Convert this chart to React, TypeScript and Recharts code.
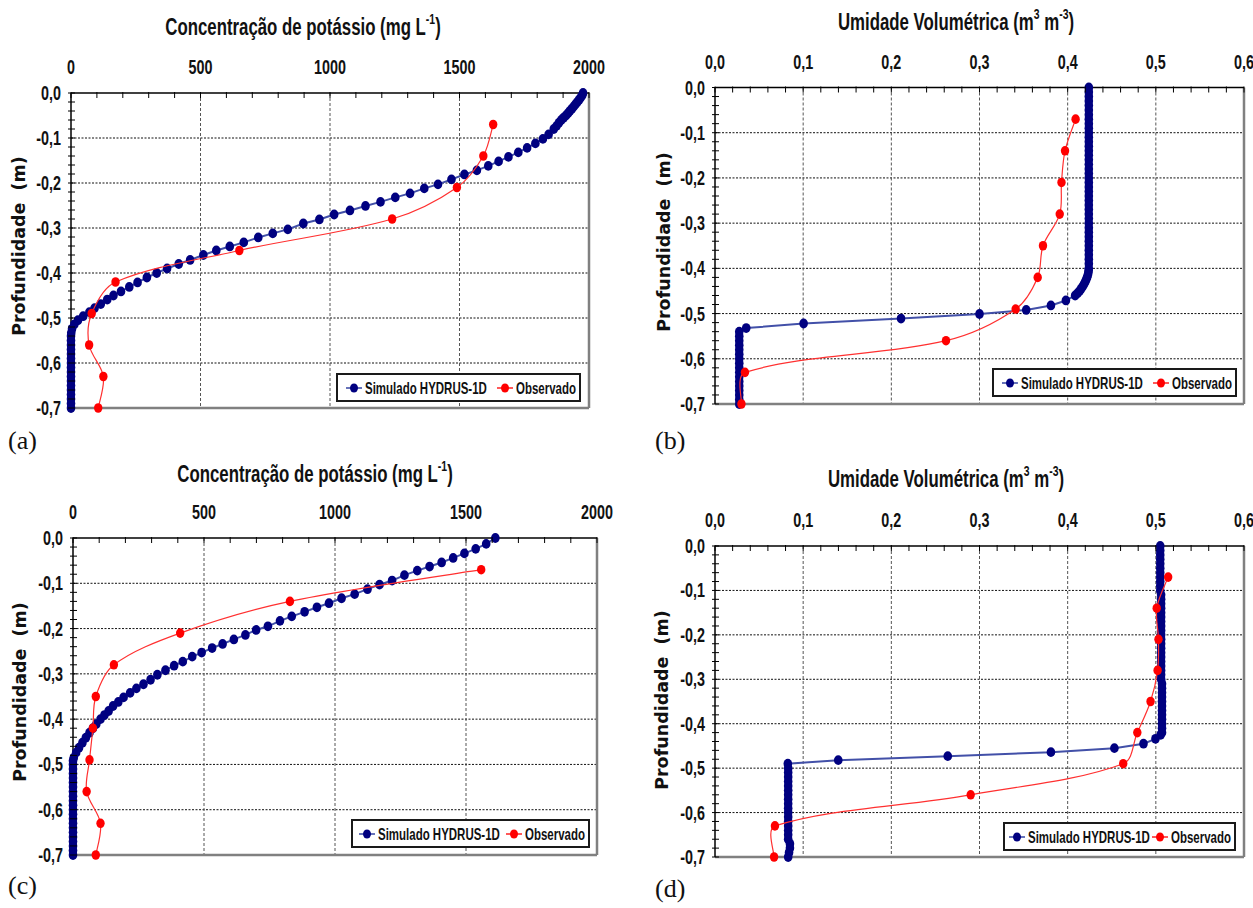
import React from 'react';
import { ScatterChart, Scatter, XAxis, YAxis, ReferenceLine, Legend } from 'recharts';

const SANS = '"Liberation Sans", Arial, sans-serif';
const SX = 0.82;
const SY = 1.15;
const BLUE = '#000080';
const BLUE_LINE = '#4250a8';
const RED = '#ff0000';
const RED_LINE = '#ff3030';
const SIM_NAME = 'Simulado HYDRUS-1D';
const OBS_NAME = 'Observado';

// ---------- shared axis values ----------
const depthTicks = [-0.7, -0.68, -0.66, -0.64, -0.62, -0.6, -0.58, -0.56, -0.54, -0.52, -0.5, -0.48, -0.46, -0.44, -0.42, -0.4, -0.38, -0.36, -0.34, -0.32, -0.3, -0.28, -0.26, -0.24, -0.22, -0.2, -0.18, -0.16, -0.14, -0.12, -0.1, -0.08, -0.06, -0.04, -0.02, 0];
const depthGrid = [-0.1, -0.2, -0.3, -0.4, -0.5, -0.6];
const potassiumTicks = [0, 100, 200, 300, 400, 500, 600, 700, 800, 900, 1000, 1100, 1200, 1300, 1400, 1500, 1600, 1700, 1800, 1900, 2000];
const potassiumGrid = [500, 1000, 1500];
const moistureTicks = [0, 0.02, 0.04, 0.06, 0.08, 0.1, 0.12, 0.14, 0.16, 0.18, 0.2, 0.22, 0.24, 0.26, 0.28, 0.3, 0.32, 0.34, 0.36, 0.38, 0.4, 0.42, 0.44, 0.46, 0.48, 0.5, 0.52, 0.54, 0.56, 0.58, 0.6];
const moistureGrid = [0.1, 0.2, 0.3, 0.4, 0.5];

// observed depths (all panels)
const depthObs = [-0.07, -0.14, -0.21, -0.28, -0.35, -0.42, -0.49, -0.56, -0.63, -0.7];

// ---------- (a) potassium ----------
const depthSimA = [0, -0.005, -0.01, -0.015, -0.02, -0.025, -0.03, -0.035, -0.04, -0.045, -0.05, -0.055, -0.06, -0.066, -0.073, -0.08,
  -0.092, -0.102, -0.112, -0.122, -0.132, -0.142, -0.152, -0.162, -0.172, -0.181,
  -0.192, -0.203, -0.212, -0.223, -0.232, -0.242, -0.251, -0.261, -0.27, -0.281,
  -0.29, -0.303, -0.312, -0.321, -0.332, -0.341, -0.35, -0.36, -0.371, -0.38,
  -0.39, -0.4, -0.41, -0.421, -0.431, -0.441, -0.45, -0.459, -0.469, -0.478,
  -0.487, -0.496, -0.505, -0.514, -0.524, -0.533,
  -0.54, -0.55, -0.56, -0.57, -0.58, -0.59, -0.6, -0.61, -0.62, -0.63, -0.64, -0.65, -0.66, -0.67, -0.68, -0.69, -0.7];
const simA = [1977, 1974, 1968, 1962, 1955, 1948, 1941, 1934, 1926, 1919, 1911, 1902, 1893, 1884, 1875, 1864,
  1844, 1822, 1793, 1761, 1727, 1689, 1651, 1611, 1567, 1519,
  1469, 1417, 1364, 1309, 1252, 1195, 1137, 1077, 1016, 959,
  897, 837, 779, 723, 667, 613, 561, 511, 460, 416,
  371, 331, 293, 257, 225, 193, 164, 140, 115, 91,
  71, 47, 27, 13, 4, 1,
  0, 0, 0, 0, 0, 0, 0, 0, 0, 0, 0, 0, 0, 0, 0, 0, 0];
const obsA = [1630, 1592, 1490, 1240, 650, 172, 80, 70, 125, 105];

// ---------- (b) moisture ----------
const depthSimB = [0, -0.01, -0.02, -0.03, -0.04, -0.05, -0.06, -0.07, -0.08, -0.09, -0.1, -0.11, -0.12, -0.13, -0.14, -0.15, -0.16, -0.17, -0.18, -0.19, -0.2,
  -0.21, -0.22, -0.23, -0.24, -0.25, -0.26, -0.27, -0.28, -0.29, -0.3, -0.31, -0.32, -0.33, -0.34, -0.35, -0.36, -0.37, -0.38, -0.39, -0.4,
  -0.405, -0.41, -0.415, -0.42, -0.425, -0.43, -0.435, -0.44, -0.445, -0.45, -0.455, -0.46,
  -0.471, -0.482, -0.492, -0.501, -0.511, -0.522, -0.532,
  -0.54, -0.55, -0.56, -0.57, -0.58, -0.59, -0.6, -0.61, -0.62, -0.63, -0.64, -0.65, -0.66, -0.67, -0.68, -0.69, -0.7];
const simB = [0.424, 0.424, 0.424, 0.424, 0.424, 0.424, 0.424, 0.424, 0.424, 0.424, 0.424, 0.424, 0.424, 0.424, 0.424, 0.424, 0.424, 0.424, 0.424, 0.424, 0.424,
  0.424, 0.424, 0.424, 0.424, 0.424, 0.424, 0.424, 0.424, 0.424, 0.424, 0.424, 0.424, 0.424, 0.424, 0.424, 0.424, 0.424, 0.424, 0.424, 0.424,
  0.4238, 0.4234, 0.4228, 0.422, 0.421, 0.4198, 0.4185, 0.417, 0.4153, 0.4135, 0.4112, 0.4085,
  0.398, 0.381, 0.353, 0.3, 0.211, 0.1005, 0.0354,
  0.0275, 0.0275, 0.0275, 0.0275, 0.0275, 0.0275, 0.0275, 0.0275, 0.0275, 0.0275, 0.0275, 0.0275, 0.0275, 0.0275, 0.0275, 0.0275, 0.0275];
const obsB = [0.409, 0.397, 0.393, 0.391, 0.372, 0.366, 0.341, 0.262, 0.034, 0.03];

// ---------- (c) potassium ----------
const depthSimC = [0, -0.013, -0.024, -0.034, -0.044, -0.054, -0.063, -0.072, -0.082, -0.094,
  -0.103, -0.113, -0.124, -0.133, -0.144, -0.153, -0.163, -0.173, -0.183, -0.195,
  -0.203, -0.214, -0.224, -0.234, -0.243, -0.253, -0.262, -0.273, -0.282, -0.292,
  -0.302, -0.313, -0.323, -0.332, -0.342, -0.352, -0.362, -0.371, -0.382, -0.391,
  -0.4, -0.411, -0.42, -0.43, -0.441, -0.452, -0.463, -0.474, -0.485, -0.492,
  -0.5, -0.51, -0.52, -0.53, -0.54, -0.55, -0.56, -0.57, -0.58, -0.59, -0.6, -0.61, -0.62, -0.63, -0.64, -0.65, -0.66, -0.67, -0.68, -0.69, -0.7];
const simC = [1612, 1577, 1537, 1494, 1451, 1407, 1361, 1314, 1265, 1218,
  1170, 1124, 1075, 1025, 977, 931, 884, 835, 790, 744,
  699, 658, 614, 571, 531, 491, 455, 419, 386, 353,
  322, 296, 269, 242, 218, 193, 173, 153, 136, 120,
  105, 89, 76, 63, 49, 36, 23, 12, 3, 0,
  0, 0, 0, 0, 0, 0, 0, 0, 0, 0, 0, 0, 0, 0, 0, 0, 0, 0, 0, 0, 0];
const obsC = [1558, 828, 409, 156, 87, 76, 63, 52, 105, 87];

// ---------- (d) moisture ----------
const depthSimD = [0, -0.01, -0.02, -0.03, -0.04, -0.05, -0.06, -0.07, -0.08, -0.09, -0.1,
  -0.11, -0.12, -0.13, -0.14, -0.15, -0.16, -0.17, -0.18, -0.19, -0.2, -0.21, -0.22, -0.23, -0.24, -0.25, -0.26, -0.27, -0.28, -0.29, -0.3,
  -0.31, -0.32, -0.33, -0.34, -0.35, -0.36, -0.37, -0.38, -0.39, -0.4, -0.41, -0.42,
  -0.425, -0.434, -0.445, -0.455, -0.464, -0.473, -0.482, -0.49,
  -0.5, -0.51, -0.52, -0.53, -0.54, -0.55, -0.56, -0.57, -0.58, -0.59, -0.6, -0.61, -0.62, -0.63, -0.64, -0.65, -0.66, -0.67, -0.68, -0.69, -0.7];
const simD = [0.505, 0.505, 0.505, 0.505, 0.505, 0.505, 0.505, 0.505, 0.505, 0.505, 0.505,
  0.506, 0.506, 0.506, 0.506, 0.506, 0.506, 0.506, 0.506, 0.506, 0.506, 0.506, 0.506, 0.506, 0.506, 0.506, 0.506, 0.506, 0.506, 0.506, 0.506,
  0.507, 0.507, 0.507, 0.507, 0.507, 0.507, 0.507, 0.507, 0.507, 0.507, 0.507, 0.507,
  0.5055, 0.4996, 0.486, 0.453, 0.381, 0.264, 0.1398, 0.0826,
  0.083, 0.083, 0.083, 0.083, 0.083, 0.083, 0.083, 0.083, 0.083, 0.083, 0.083, 0.083, 0.083, 0.083, 0.083, 0.083, 0.083, 0.085, 0.085, 0.084, 0.083];
const obsD = [0.514, 0.501, 0.503, 0.502, 0.494, 0.479, 0.463, 0.29, 0.068, 0.067];

const zip = (vals: number[], depths: number[]) => vals.map((v, i) => ({ x: v, y: depths[i] }));

// Excel-like smoothed line: Bezier through the points, tangents scaled by chord lengths
const smoothCurve = (context: any) => {
  let pts: number[][] = [];
  const dist = (a: number[], b: number[]) => Math.hypot(b[0] - a[0], b[1] - a[1]);
  return {
    areaStart() {},
    areaEnd() {},
    lineStart() { pts = []; },
    lineEnd() {
      const n = pts.length;
      if (!n) return;
      context.moveTo(pts[0][0], pts[0][1]);
      for (let i = 0; i < n - 1; i++) {
        const p0 = pts[i > 0 ? i - 1 : i];
        const p1 = pts[i];
        const p2 = pts[i + 1];
        const p3 = pts[i + 2 < n ? i + 2 : i + 1];
        const d01 = dist(p0, p1), d12 = dist(p1, p2), d23 = dist(p2, p3);
        const f1 = d01 + d12 > 0 ? d12 / (d01 + d12) / 3 : 0;
        const f2 = d12 + d23 > 0 ? d12 / (d12 + d23) / 3 : 0;
        const k1 = i > 0 ? f1 : f1 * 0.5;
        const k2 = i + 2 < n ? f2 : f2 * 0.5;
        context.bezierCurveTo(
          p1[0] + (p2[0] - p0[0]) * k1, p1[1] + (p2[1] - p0[1]) * k1,
          p2[0] - (p3[0] - p1[0]) * k2, p2[1] - (p3[1] - p1[1]) * k2,
          p2[0], p2[1]);
      }
    },
    point(x: number, y: number) { pts.push([+x, +y]); },
  };
};

let measureCtx: any = null;
const measure = (text: string, font: string) => {
  if (!measureCtx) measureCtx = document.createElement('canvas').getContext('2d');
  if (!measureCtx) return text.length * 8;
  measureCtx.font = font;
  return measureCtx.measureText(text).width;
};

const isMajor = (v: number, step: number) => Math.abs(v / step - Math.round(v / step)) < 1e-6;
const commaFmt = (v: number) => v.toFixed(1).replace('.', ',');
const intFmt = (v: number) => String(v);

const blueDot = (p: any) => <ellipse cx={p.cx} cy={p.cy} rx={4.3} ry={4.9} fill={BLUE} />;
const redDot = (p: any) => <ellipse cx={p.cx} cy={p.cy} rx={4.2} ry={4.8} fill={RED} />;

const LEGEND_FS = 14;
const makeLegend = (padLeft: number, gap: number) => (props: any) => {
  const order = [SIM_NAME, OBS_NAME];
  const items = [...(props.payload || [])].sort((a: any, b: any) => order.indexOf(a.value) - order.indexOf(b.value));
  return (
    <div style={{ display: 'flex', alignItems: 'center', height: '100%', paddingLeft: padLeft, fontFamily: SANS, fontWeight: 'bold', fontSize: LEGEND_FS, color: '#111', whiteSpace: 'nowrap' }}>
      {items.map((e: any) => {
        const w = measure(String(e.value), `bold ${LEGEND_FS}px ${SANS}`) * SX;
        return (
          <span key={e.value} style={{ display: 'inline-flex', alignItems: 'center', marginRight: gap }}>
            <svg width={16} height={12} style={{ marginRight: 3 }}>
              <line x1={0} x2={16} y1={6} y2={6} stroke={e.value === SIM_NAME ? BLUE_LINE : RED_LINE} strokeWidth={1.6} />
              <ellipse cx={8} cy={6} rx={4} ry={4.6} fill={e.color} />
            </svg>
            <span style={{ display: 'inline-block', width: w, height: 16, position: 'relative' }}>
              <span style={{ position: 'absolute', left: 0, top: 0, lineHeight: '16px', transform: `scale(${SX},${SY})`, transformOrigin: 'left center' }}>{e.value}</span>
            </span>
          </span>
        );
      })}
    </div>
  );
};

type Cfg = {
  ox: number; oy: number;
  plotL: number; plotT: number; plotR: number; plotB: number;
  xMax: number; xTicks: number[]; xGrid: number[]; xStep: number; xFmt: (v: number) => string;
  sim: { x: number; y: number }[]; obs: { x: number; y: number }[];
  legend: { l: number; t: number; w: number; h: number; pad: number; gap: number };
};

function Panel(c: Cfg) {
  const W = c.plotR - c.ox + 30;
  const H = c.plotB - c.oy + 22;
  const xTick = (p: any) => {
    const v = p.payload.value;
    return (
      <g>
        <line x1={p.x} x2={p.x} y1={p.y - 1} y2={p.y + 5} stroke="#000" strokeWidth={1} />
        {isMajor(v, c.xStep) && (
          <text transform={`translate(${p.x},${p.y - 19}) scale(${SX},${SY})`} textAnchor="middle" fontFamily={SANS} fontWeight="bold" fontSize={17.5} fill="#111">{c.xFmt(v)}</text>
        )}
      </g>
    );
  };
  const yTick = (p: any) => {
    const v = p.payload.value;
    return (
      <g>
        <line x1={p.x - 3} x2={p.x + 4} y1={p.y} y2={p.y} stroke="#000" strokeWidth={1} />
        {isMajor(v, 0.1) && (
          <text transform={`translate(${p.x - 10},${p.y + 7}) scale(${SX},${SY})`} textAnchor="end" fontFamily={SANS} fontWeight="bold" fontSize={17.5} fill="#111">{commaFmt(v)}</text>
        )}
      </g>
    );
  };
  return (
    <div style={{ position: 'absolute', left: c.ox, top: c.oy }}>
      <ScatterChart width={W} height={H} margin={{ top: 0, left: 0, right: 30, bottom: 22 }}>
        <XAxis type="number" dataKey="x" orientation="top" domain={[0, c.xMax]} ticks={c.xTicks} interval={0}
          height={c.plotT - c.oy} tickLine={false} tickSize={0} tickMargin={0} tick={xTick}
          axisLine={{ stroke: '#000', strokeWidth: 1.5 }} />
        <YAxis type="number" dataKey="y" domain={[-0.7, 0]} ticks={depthTicks} interval={0}
          width={c.plotL - c.ox} tickLine={false} tickSize={0} tickMargin={0} tick={yTick}
          axisLine={{ stroke: '#000', strokeWidth: 1.5 }} />
        {depthGrid.map((g) => (
          <ReferenceLine key={`h${g}`} y={g} stroke="#111" strokeWidth={1} strokeDasharray="2 1.5" />
        ))}
        {c.xGrid.map((g) => (
          <ReferenceLine key={`v${g}`} x={g} stroke="#555" strokeWidth={1} strokeDasharray="3 2" />
        ))}
        <ReferenceLine x={c.xMax} stroke="#808080" strokeWidth={2.5} />
        <ReferenceLine y={-0.7} stroke="#808080" strokeWidth={2.5} />
        <Scatter name={SIM_NAME} data={c.sim} fill={BLUE} isAnimationActive={false}
          line={{ stroke: BLUE_LINE, strokeWidth: 2 }} lineJointType="linear" shape={blueDot} />
        <Scatter name={OBS_NAME} data={c.obs} fill={RED} isAnimationActive={false}
          line={{ stroke: RED_LINE, strokeWidth: 1.2 }} lineJointType={smoothCurve as any} shape={redDot} />
        <Legend layout="vertical" align="center" verticalAlign="middle" content={makeLegend(c.legend.pad, c.legend.gap)}
          wrapperStyle={{ left: c.legend.l - c.ox, top: c.legend.t - c.oy, width: c.legend.w, height: c.legend.h, border: '2px solid #1a1a1a', background: '#fff', boxSizing: 'border-box' }} />
      </ScatterChart>
    </div>
  );
}

const titleStyle = (cx: number, cy: number): React.CSSProperties => ({
  position: 'absolute', left: cx, top: cy, transform: `translate(-50%,-50%) scale(${SX},${SY})`,
  fontFamily: SANS, fontWeight: 'bold', fontSize: 20.5, color: '#111', whiteSpace: 'nowrap', lineHeight: 1,
});
const supStyle: React.CSSProperties = { fontSize: '0.62em', verticalAlign: 'top', lineHeight: 1, position: 'relative', top: -2 };
const yLabelStyle = (cx: number, cy: number): React.CSSProperties => ({
  position: 'absolute', left: cx, top: cy, transform: 'translate(-50%,-50%) rotate(-90deg)',
  fontFamily: '"DejaVu Sans", sans-serif', fontWeight: 'bold', fontSize: 17.5, color: '#111', whiteSpace: 'pre', lineHeight: 1,
});
const letterStyle = (x: number, cy: number): React.CSSProperties => ({
  position: 'absolute', left: x, top: cy - 15, lineHeight: '30px',
  fontFamily: '"Liberation Serif", "Times New Roman", serif', fontSize: 26, color: '#111',
});

export default function App() {
  return (
    <div style={{ position: 'absolute', left: 0, top: 0, width: 1253, height: 908, background: '#fff', overflow: 'hidden' }}>
      <Panel ox={0} oy={0} plotL={71} plotT={93} plotR={589} plotB={408}
        xMax={2000} xTicks={potassiumTicks} xGrid={potassiumGrid} xStep={500} xFmt={intFmt}
        sim={zip(simA, depthSimA)} obs={zip(obsA, depthObs)} legend={{ l: 336, t: 373, w: 245, h: 29, pad: 8, gap: 10 }} />
      <Panel ox={640} oy={0} plotL={715} plotT={87.5} plotR={1244} plotB={404}
        xMax={0.6} xTicks={moistureTicks} xGrid={moistureGrid} xStep={0.1} xFmt={commaFmt}
        sim={zip(simB, depthSimB)} obs={zip(obsB, depthObs)} legend={{ l: 992, t: 368, w: 245, h: 29, pad: 8, gap: 10 }} />
      <Panel ox={0} oy={450} plotL={73} plotT={538} plotR={597} plotB={855}
        xMax={2000} xTicks={potassiumTicks} xGrid={potassiumGrid} xStep={500} xFmt={intFmt}
        sim={zip(simC, depthSimC)} obs={zip(obsC, depthObs)} legend={{ l: 351, t: 819, w: 239, h: 29, pad: 6, gap: 6 }} />
      <Panel ox={640} oy={450} plotL={715} plotT={546} plotR={1244} plotB={857}
        xMax={0.6} xTicks={moistureTicks} xGrid={moistureGrid} xStep={0.1} xFmt={commaFmt}
        sim={zip(simD, depthSimD)} obs={zip(obsD, depthObs)} legend={{ l: 1003, t: 822, w: 233, h: 29, pad: 4, gap: 2 }} />

      <div style={titleStyle(303, 27)}>Concentração de potássio (mg L<sup style={supStyle}>-1</sup>)</div>
      <div style={titleStyle(956, 22)}>Umidade Volumétrica (m<sup style={supStyle}>3</sup> m<sup style={supStyle}>-3</sup>)</div>
      <div style={titleStyle(315, 474)}>Concentração de potássio (mg L<sup style={supStyle}>-1</sup>)</div>
      <div style={titleStyle(946, 479)}>Umidade Volumétrica (m<sup style={supStyle}>3</sup> m<sup style={supStyle}>-3</sup>)</div>

      <div style={yLabelStyle(20, 246)}>{'Profundidade  (m)'}</div>
      <div style={yLabelStyle(665, 242)}>{'Profundidade  (m)'}</div>
      <div style={yLabelStyle(21, 692)}>{'Profundidade  (m)'}</div>
      <div style={yLabelStyle(663, 700)}>{'Profundidade  (m)'}</div>

      <div style={letterStyle(8, 441)}>(a)</div>
      <div style={letterStyle(655, 441)}>(b)</div>
      <div style={letterStyle(8, 886)}>(c)</div>
      <div style={letterStyle(655, 889)}>(d)</div>
    </div>
  );
}
